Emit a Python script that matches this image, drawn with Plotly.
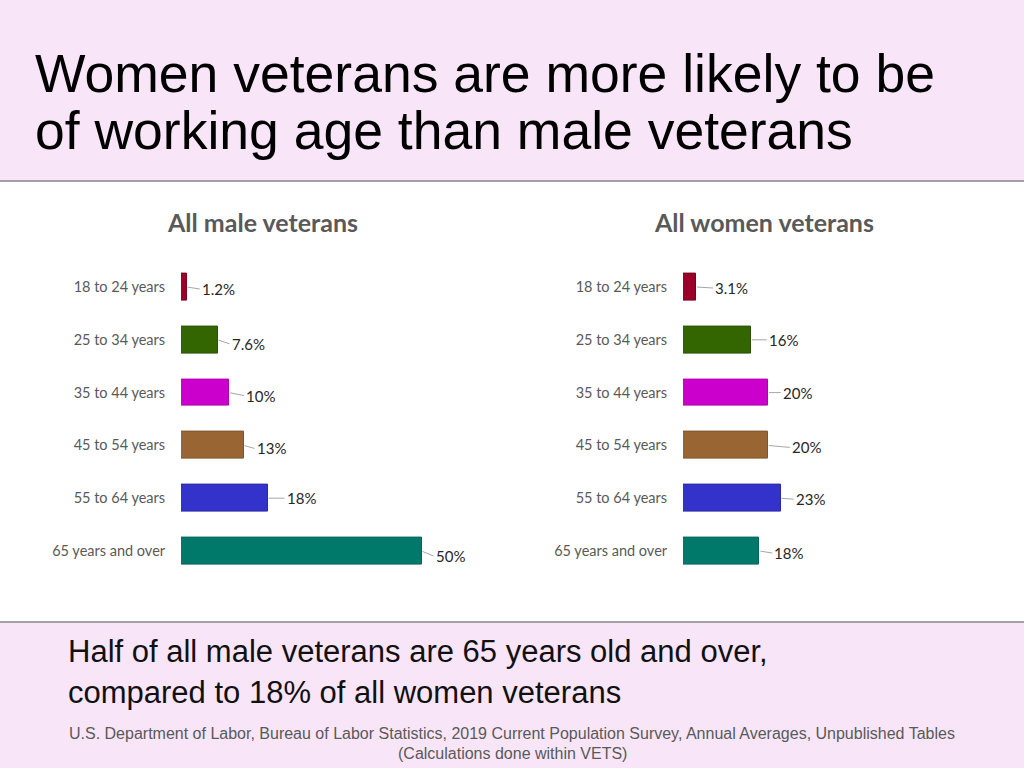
import plotly.graph_objects as go

# ---------------- data ----------------
age_groups = ["18 to 24 years", "25 to 34 years", "35 to 44 years",
              "45 to 54 years", "55 to 64 years", "65 years and over"]
male_pct = [1.2, 7.6, 10, 13, 18, 50]
women_pct = [3.1, 16, 20, 20, 23, 18]
male_labels = ["1.2%", "7.6%", "10%", "13%", "18%", "50%"]
women_labels = ["3.1%", "16%", "20%", "20%", "23%", "18%"]
panel_titles = ["All male veterans", "All women veterans"]
title_lines = ["Women veterans are more likely to be",
               "of working age than male veterans"]
note_lines = ["Half of all male veterans are 65 years old and over,",
              "compared to 18% of all women veterans"]
source_lines = ["U.S. Department of Labor, Bureau of Labor Statistics, 2019 Current Population Survey, Annual Averages, Unpublished Tables",
                "(Calculations done within VETS)"]

# ---------------- style ----------------
bar_colors = ["#9c0028", "#336600", "#cc00cc", "#996633", "#3333cc", "#00796b"]
bar_edges = ["#7a001f", "#2a5200", "#b000b0", "#80552a", "#2a2aa8", "#00665a"]
# label nudges (pixels): horizontal gap from bar end, vertical offset
male_gap = [15, 14, 17, 13, 19, 14]
male_dy = [2, 4, 3, 3, 0, 5]
women_gap = [19, 18, 15, 24, 15, 15]
women_dy = [1, 0, 0, 2, 1, 2]

W, H = 1024, 768
PINK = "#f8e6f8"
CAL = "Lato, Carlito, sans-serif"
FG = "Liberation Sans, Arial, sans-serif"


def px(x):
    return x / W


def py(y):
    return 1 - y / H


fig = go.Figure()
fig.add_trace(go.Bar(y=age_groups, x=male_pct, orientation="h",
                     marker=dict(color=bar_colors, line=dict(color=bar_edges, width=1)),
                     width=0.51, xaxis="x", yaxis="y", hoverinfo="skip"))
fig.add_trace(go.Bar(y=age_groups, x=women_pct, orientation="h",
                     marker=dict(color=bar_colors, line=dict(color=bar_edges, width=1)),
                     width=0.51, xaxis="x2", yaxis="y2", hoverinfo="skip"))

ydom = [py(577.4), py(260.6)]
ycommon = dict(type="category", range=[5.5, -0.5], domain=ydom, showgrid=False,
               showline=False, zeroline=False, ticks="outside", ticklen=12,
               tickcolor="rgba(0,0,0,0)",
               tickfont=dict(family=CAL, size=14.5, color="#595959"))
xcommon = dict(showgrid=False, showline=False, zeroline=False, showticklabels=False,
               fixedrange=True)

fig.update_layout(
    width=W, height=H, margin=dict(l=0, r=0, t=0, b=0),
    paper_bgcolor="white", plot_bgcolor="rgba(0,0,0,0)",
    showlegend=False, bargap=0,
    xaxis=dict(domain=[px(181), px(181 + 55 * 4.81)], range=[0, 55], anchor="y", **xcommon),
    yaxis=dict(anchor="x", **ycommon),
    xaxis2=dict(domain=[px(683), px(683 + 28 * 4.24)], range=[0, 28], anchor="y2", **xcommon),
    yaxis2=dict(anchor="x2", **ycommon),
)

# background bands and rules
fig.add_shape(type="rect", xref="paper", yref="paper", x0=0, x1=1, y0=py(180.5), y1=1,
              fillcolor=PINK, line_width=0, layer="below")
fig.add_shape(type="rect", xref="paper", yref="paper", x0=0, x1=1, y0=0, y1=py(622.5),
              fillcolor=PINK, line_width=0, layer="below")
for yl in (181, 622):
    fig.add_shape(type="line", xref="paper", yref="paper", x0=0, x1=1, y0=py(yl), y1=py(yl),
                  line=dict(color="#4a4a4a", width=1))

ann = []
# data labels with leader lines
for vals, labs, gaps, dys, xr, yr in ((male_pct, male_labels, male_gap, male_dy, "x", "y"),
                                       (women_pct, women_labels, women_gap, women_dy, "x2", "y2")):
    for cat, v, t, g, d in zip(age_groups, vals, labs, gaps, dys):
        ann.append(dict(x=v, y=cat, xref=xr, yref=yr, text=t, showarrow=True,
                        arrowhead=0, arrowwidth=1, arrowcolor="#a6a6a6", standoff=1,
                        ax=g - 2, ay=d, xanchor="left", yanchor="middle",
                        font=dict(family=CAL, size=15, color="#262626")))

# panel titles
for t, xc in zip(panel_titles, (262, 764)):
    ann.append(dict(x=px(xc), y=py(222), xref="paper", yref="paper", text="<b>" + t + "</b>",
                    showarrow=False, xanchor="center", yanchor="middle",
                    font=dict(family=CAL, size=25, color="#595959")))

# main title
for t, yc in zip(title_lines, (73, 131)):
    ann.append(dict(x=px(33), y=py(yc), xref="paper", yref="paper", text=t, showarrow=False,
                    xanchor="left", yanchor="middle",
                    font=dict(family=FG, size=53.5, color="#000000")))

# bottom note
for t, yc in zip(note_lines, (651, 692)):
    ann.append(dict(x=px(66), y=py(yc), xref="paper", yref="paper", text=t, showarrow=False,
                    xanchor="left", yanchor="middle",
                    font=dict(family=FG, size=31, color="#111111")))

# source
for t, yc in zip(source_lines, (733, 753)):
    ann.append(dict(x=0.5, y=py(yc), xref="paper", yref="paper", text=t, showarrow=False,
                    xanchor="center", yanchor="middle",
                    font=dict(family=FG, size=16, color="#595959")))

fig.update_layout(annotations=ann)
fig.write_html("out.html", config={"displayModeBar": False},
               post_script="document.body.style.margin='0';document.body.style.padding='0';"
                           "document.body.style.overflow='hidden';")
